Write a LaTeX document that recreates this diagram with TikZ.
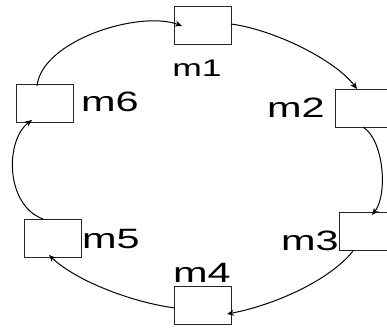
\documentclass[tikz,border=0pt]{standalone}
\usepackage{fontspec}
\setmainfont{Liberation Sans}
\usetikzlibrary{arrows.meta}
\tikzset{
  box/.style={draw=black!85, line width=0.8pt, minimum width=57pt, minimum height=38pt, inner sep=0pt},
  lbl/.style={inner sep=0pt, font=\fontsize{28}{30}\selectfont},
  lblsmall/.style={inner sep=0pt, font=\fontsize{24}{26}\selectfont},
  conn/.style={line width=1pt, -{Stealth[length=7pt,width=6pt]}}
}
\newcommand\wide[1]{\scalebox{1.48}[1]{#1}}
\begin{document}
\begin{tikzpicture}[x=1pt,y=-1pt]
\useasboundingbox (0,0) rectangle (387,329);
\clip (0,0) rectangle (387,329);
% boxes
\node[box] (b1) at (202.5,25) {};
\node[box] (b2) at (363.5,108) {};
\node[box] (b3) at (367.5,231) {};
\node[box] (b4) at (203,305) {};
\node[box] (b5) at (52.5,238) {};
\node[box] (b6) at (45,103) {};
% labels
\node[lblsmall] (l1) at (197,68) {\wide{m1}};
\node[lbl] (l2) at (296,108) {\wide{m2}};
\node[lbl] (l3) at (310,241) {\wide{m3}};
\node[lbl] (l4) at (202,273) {\wide{m4}};
\node[lbl] (l5) at (111,239) {\wide{m5}};
\node[lbl] (l6) at (110,102) {\wide{m6}};
% connector end points
\coordinate (s6) at (37,86);   \coordinate (e1) at (182,26);
\coordinate (s1) at (231,24);  \coordinate (e2) at (357,89);
\coordinate (s2) at (363,127); \coordinate (e3) at (372,215);
\coordinate (s3) at (353,251); \coordinate (e4) at (227,314);
\coordinate (s4) at (175,308); \coordinate (e5) at (49,255);
\coordinate (s5) at (43,219);  \coordinate (e6) at (32,120);
% connectors
\draw[conn] (s6) .. controls (42,40) and (140,10) .. (e1);
\draw[conn] (s1) .. controls (275,30) and (335,60) .. (e2);
\draw[conn] (s2) .. controls (384,140) and (388,195) .. (e3);
\draw[conn] (s3) .. controls (330,280) and (275,305) .. (e4);
\draw[conn] (s4) .. controls (130,302) and (75,280) .. (e5);
\draw[conn] (s5) .. controls (5,205) and (5,140) .. (e6);
\end{tikzpicture}
\end{document}
